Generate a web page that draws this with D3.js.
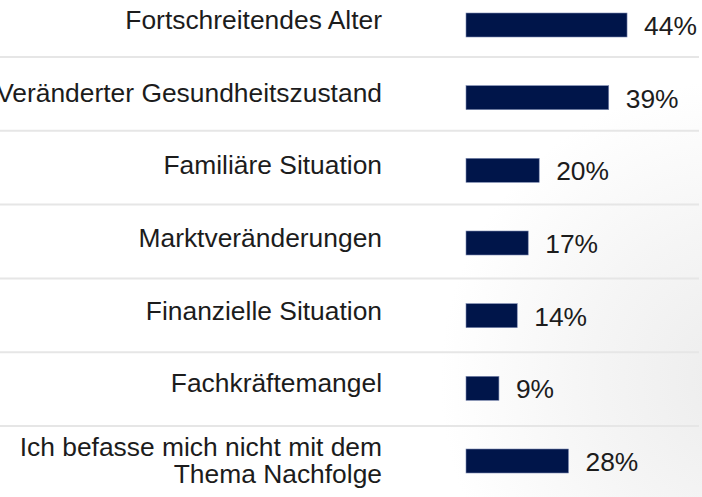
<!DOCTYPE html>
<html lang="de">
<head>
    <meta charset="UTF-8">
    <title>Gründe Nachfolge</title>
    <style>
        html, body { margin: 0; padding: 0; background: #fff; }
        svg { display: block; }
        .cat, .val { font-family: "Liberation Sans", Arial, sans-serif; font-size: 26.4px; fill: #1c1c1c; }
        .sep { stroke: #e6e6e6; stroke-width: 2px; }
        .bar { fill: #00154a; stroke: #7b88b0; stroke-width: 0.6px; }
    </style>
    <script src="https://d3js.org/d3.v7.min.js"></script>
</head>
<body>
    <div id="chart"></div>
    <script>
        // data
        const categories = [
            "Fortschreitendes Alter",
            "Veränderter Gesundheitszustand",
            "Familiäre Situation",
            "Marktveränderungen",
            "Finanzielle Situation",
            "Fachkräftemangel",
            "Ich befasse mich nicht mit dem\nThema Nachfolge"
        ];
        const values = [44, 39, 20, 17, 14, 9, 28];

        const width = 702,
              height = 497;

        const svg = d3.select("#chart")
                      .append("svg")
                      .attr("width", width)
                      .attr("height", height);

        // faint background shading, lower right
        const defs = svg.append("defs");
        const grad = defs.append("radialGradient")
                         .attr("id", "bg")
                         .attr("gradientUnits", "userSpaceOnUse")
                         .attr("cx", 740).attr("cy", 380)
                         .attr("r", 300);
        grad.append("stop").attr("offset", "0").attr("stop-color", "#ececec");
        grad.append("stop").attr("offset", "0.5").attr("stop-color", "#f5f5f5");
        grad.append("stop").attr("offset", "1").attr("stop-color", "#ffffff");
        svg.append("rect")
           .attr("width", width)
           .attr("height", height)
           .attr("fill", "url(#bg)");

        const x = d3.scaleLinear()
                    .domain([0, 100])
                    .range([466, 466 + 366]);

        const y = d3.scalePoint()
                    .domain(categories)
                    .range([25, 461]);

        const barH = 24;

        // separator lines between rows
        const sepY = d3.scaleLinear().domain([0, categories.length - 2]).range([57, 426]);
        svg.append("g")
           .selectAll("line")
           .data(d3.range(categories.length - 1))
           .join("line")
           .attr("class", "sep")
           .attr("x1", 0)
           .attr("x2", 699)
           .attr("y1", d => sepY(d))
           .attr("y2", d => sepY(d));

        const rows = svg.append("g")
                        .selectAll("g")
                        .data(categories.map((c, i) => ({ cat: c, val: values[i] })))
                        .join("g");

        rows.append("rect")
            .attr("class", "bar")
            .attr("x", x(0))
            .attr("y", d => y(d.cat) - barH / 2)
            .attr("width", d => x(d.val) - x(0))
            .attr("height", barH);

        rows.append("text")
            .attr("class", "val")
            .attr("x", d => x(d.val) + 17)
            .attr("y", d => y(d.cat) + 10)
            .text(d => d.val + "%");

        const label = rows.append("text")
            .attr("class", "cat")
            .attr("text-anchor", "end");

        label.each(function(d) {
            const lines = d.cat.split("\n");
            const t = d3.select(this);
            const y0 = lines.length > 1 ? y(d.cat) - 5 : y(d.cat) + 4;
            lines.forEach((ln, i) => {
                t.append("tspan")
                 .attr("x", 382)
                 .attr("y", y0 + i * 27)
                 .text(ln);
            });
        });
    </script>
</body>
</html>
